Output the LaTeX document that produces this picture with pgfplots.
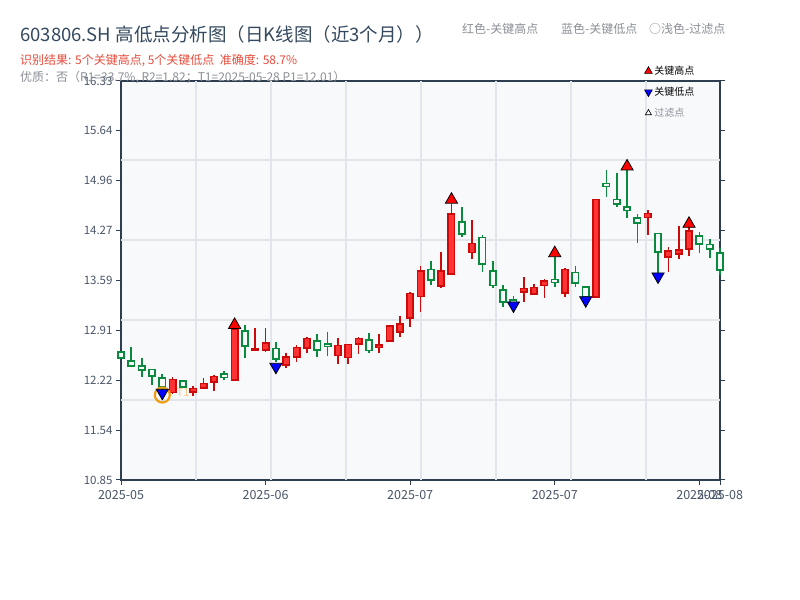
\documentclass[border=0pt]{standalone}
\usepackage{fontspec}
\setmainfont{Noto Sans CJK SC}
\usepackage{pgfplots}
\pgfplotsset{compat=1.18}
\usepackage{pgfplotstable}

\definecolor{bg}{HTML}{F7F9FB}
\definecolor{axisc}{HTML}{2C3E50}
\definecolor{tickc}{HTML}{4A5568}
\definecolor{gridc}{HTML}{E2E6EB}
\definecolor{upfill}{HTML}{FF3333}
\definecolor{upedge}{HTML}{CC0A0A}
\definecolor{dn}{HTML}{0A8A3C}
\definecolor{titlec}{HTML}{34495E}
\definecolor{redtxt}{HTML}{E74C3C}
\definecolor{graytxt}{HTML}{8A8F96}
\definecolor{orangec}{HTML}{F39C12}

% red (up) candles: x, body low, body high, low, high
\pgfplotstableread{
x  bl     bh     lo     hi
5  12.049 12.233 12.031 12.260
7  12.054 12.109 12.008 12.145
8  12.109 12.178 12.109 12.247
9  12.192 12.274 12.076 12.288
11 12.223 12.920 12.223 12.930
13 12.626 12.649 12.626 12.933
14 12.635 12.736 12.608 12.933
16 12.425 12.543 12.384 12.590
17 12.535 12.672 12.466 12.704
18 12.659 12.796 12.598 12.818
21 12.557 12.700 12.439 12.796
22 12.530 12.714 12.439 12.714
23 12.714 12.796 12.580 12.818
25 12.672 12.704 12.598 12.855
26 12.759 12.965 12.759 12.979
27 12.878 12.992 12.818 13.102
28 13.071 13.414 12.955 13.432
29 13.367 13.720 13.161 13.789
31 13.514 13.720 13.491 13.985
32 13.675 14.503 13.675 14.641
34 13.972 14.101 13.885 14.421
39 13.428 13.483 13.299 13.634
40 13.404 13.497 13.391 13.538
41 13.518 13.583 13.345 13.606
43 13.414 13.744 13.359 13.757
46 13.359 14.705 13.359 14.705
51 14.452 14.513 14.215 14.558
53 13.909 13.995 13.711 14.046
54 13.950 14.009 13.881 14.338
55 14.018 14.270 13.931 14.321
}\updata

% green (down) candles
\pgfplotstableread{
x  bl     bh     lo     hi
0  12.521 12.612 12.521 12.612
1  12.416 12.488 12.416 12.681
2  12.361 12.416 12.269 12.521
3  12.278 12.370 12.155 12.370
4  12.123 12.255 12.070 12.306
6  12.123 12.214 12.123 12.214
10 12.255 12.306 12.223 12.347
12 12.690 12.900 12.521 12.979
15 12.508 12.659 12.471 12.749
19 12.635 12.763 12.543 12.855
20 12.690 12.718 12.557 12.887
24 12.626 12.773 12.598 12.873
30 13.597 13.744 13.528 13.858
33 14.224 14.398 14.191 14.595
35 13.812 14.183 13.711 14.215
36 13.518 13.720 13.491 13.858
37 13.291 13.459 13.230 13.528
38 13.285 13.322 13.267 13.377
42 13.560 13.606 13.505 13.917
44 13.551 13.700 13.505 13.789
45 13.370 13.505 13.370 13.505
47 14.878 14.925 14.741 15.108
48 14.636 14.705 14.604 15.070
49 14.549 14.604 14.444 15.108
50 14.375 14.452 14.109 14.503
52 13.977 14.238 13.689 14.238
56 14.091 14.205 13.972 14.252
57 14.023 14.087 13.895 14.160
58 13.734 13.972 13.665 14.032
}\dndata

\pgfplotsset{
  wick/.style={forget plot, draw=none, mark=none,
    error bars/.cd, y dir=both, y explicit, error mark=none,
    error bar style={draw=#1, line width=1.7bp, line cap=butt, solid}},
  bodyouter/.style={forget plot, draw=none, mark=none,
    error bars/.cd, y dir=both, y explicit, error mark=none,
    error bar style={draw=#1, line width=8bp, line cap=butt, solid}},
  bodyinner/.style={forget plot, draw=none, mark=none,
    error bars/.cd, y dir=both, y explicit, error mark=none,
    error bar style={draw=#1, line width=4.6bp, line cap=butt, solid}},
}

\begin{document}
\begin{tikzpicture}[x=1bp,y=1bp]
\fill[white] (0,0) rectangle (800,600);
\path[use as bounding box] (0,0) rectangle (800,600);

\begin{axis}[
  at={(121bp,120bp)}, anchor=south west,
  width=599bp, height=399bp, scale only axis,
  xmin=0, xmax=58, ymin=10.85, ymax=16.33,
  clip=false,
  axis background/.style={fill=bg},
  axis line style={draw=axisc, line width=1.6bp},
  xtick={0,14,28,42,56,58},
  xticklabels={2025-05,2025-06,2025-07,2025-07,2025-08,2025-08},
  ytick={10.85,11.535,12.22,12.905,13.59,14.275,14.96,15.645,16.33},
  yticklabels={10.85,11.54,12.22,12.91,13.59,14.27,14.96,15.64,16.33},
  tick align=outside, xtick pos=bottom, ytick pos=both,
  major tick length=5bp,
  tick style={draw=axisc, line width=1bp},
  x tick label style={font=\fontsize{12.5bp}{14bp}\selectfont, text=tickc, yshift=-2bp},
  y tick label style={font=\fontsize{11.5bp}{13bp}\selectfont, text=tickc},
  extra x ticks={7.26,14.52,21.78,29.05,36.31,43.57,50.83},
  extra x tick labels={},
  extra x tick style={grid=major, major tick length=0pt},
  extra y ticks={11.949,13.047,14.146,15.245},
  extra y tick labels={},
  extra y tick style={grid=major, major tick length=0pt, ytick pos=left},
  major grid style={draw=gridc, line width=1.2bp},
  legend style={at={(rel axis cs:0.872,1.045)}, anchor=north west,
    draw=none, fill=none, font=\fontsize{10bp}{12bp}\selectfont,
    row sep=7bp, inner sep=1bp},
  legend cell align=left,
]

% wicks
\addplot[wick=upedge] table[x=x, y expr={(\thisrow{lo}+\thisrow{hi})/2}, y error expr={(\thisrow{hi}-\thisrow{lo})/2}] {\updata};
\addplot[wick=dn] table[x=x, y expr={(\thisrow{lo}+\thisrow{hi})/2}, y error expr={(\thisrow{hi}-\thisrow{lo})/2}] {\dndata};
% bodies
\addplot[bodyouter=upedge] table[x=x, y expr={(\thisrow{bl}+\thisrow{bh})/2}, y error expr={(\thisrow{bh}-\thisrow{bl})/2+0.010}] {\updata};
\addplot[bodyinner=upfill] table[x=x, y expr={(\thisrow{bl}+\thisrow{bh})/2}, y error expr={max((\thisrow{bh}-\thisrow{bl})/2-0.012,0)}] {\updata};
\addplot[bodyouter=dn] table[x=x, y expr={(\thisrow{bl}+\thisrow{bh})/2}, y error expr={(\thisrow{bh}-\thisrow{bl})/2+0.010}] {\dndata};
\addplot[bodyinner=bg] table[x=x, y expr={(\thisrow{bl}+\thisrow{bh})/2}, y error expr={max((\thisrow{bh}-\thisrow{bl})/2-0.012,0)}] {\dndata};

% T1 ring
\addplot[forget plot, only marks, mark=o, mark size=7.5bp, mark options={draw=orangec, line width=2.2bp}] coordinates {(4,12.017)};

% key highs
\addplot[forget plot, only marks, mark=triangle*, mark size=7bp, mark options={fill=red, draw=black, line width=0.8bp}]
  coordinates {(11,12.980) (32,14.700) (42,13.965) (49,15.156) (55,14.369)};
% key lows
\addplot[forget plot, only marks, mark=triangle*, mark size=7bp, mark options={rotate=180, fill=blue, draw=black, line width=0.8bp}]
  coordinates {(4,12.048) (15,12.405) (38,13.247) (45,13.319) (52,13.645)};

\node[anchor=west, text=orangec, opacity=0.5, font=\fontsize{11bp}{13bp}\selectfont] at (axis cs:5.05,12.05) {T1};

\addlegendimage{only marks, mark=triangle*, mark size=4.5bp, mark options={fill=red, draw=black, line width=0.6bp}}
\addlegendentry{关键高点}
\addlegendimage{only marks, mark=triangle*, mark size=4.5bp, mark options={rotate=180, fill=blue, draw=black, line width=0.6bp}}
\addlegendentry{关键低点}
\addlegendimage{only marks, mark=triangle*, mark size=3.5bp, mark options={fill=white, draw=black, line width=0.6bp}}
\addlegendentry{\textcolor{graytxt}{过滤点}}
\end{axis}

\node[anchor=base west, text=titlec, font=\fontsize{18.5bp}{22bp}\selectfont, inner sep=0pt] at (20,558) {603806.SH 高低点分析图（日K线图（近3个月））};
\node[anchor=base west, text=redtxt, font=\fontsize{12bp}{14bp}\selectfont, inner sep=0pt] at (20,535.5) {识别结果: 5个关键高点, 5个关键低点\ \ 准确度: 58.7\%};
\node[anchor=base west, text=graytxt, font=\fontsize{12bp}{14bp}\selectfont, inner sep=0pt] at (20,518.5) {优质：否（R1=33.7\%, R2=1.82；T1=2025-05-28 P1=12.01）};

\node[anchor=base west, text=graytxt, font=\fontsize{12bp}{14bp}\selectfont, inner sep=0pt] at (462,566) {红色-关键高点};
\node[anchor=base west, text=graytxt, font=\fontsize{12bp}{14bp}\selectfont, inner sep=0pt] at (561,566) {蓝色-关键低点};
\node[anchor=base west, text=graytxt, font=\fontsize{12bp}{14bp}\selectfont, inner sep=0pt] at (649,566) {○浅色-过滤点};
\end{tikzpicture}
\end{document}
